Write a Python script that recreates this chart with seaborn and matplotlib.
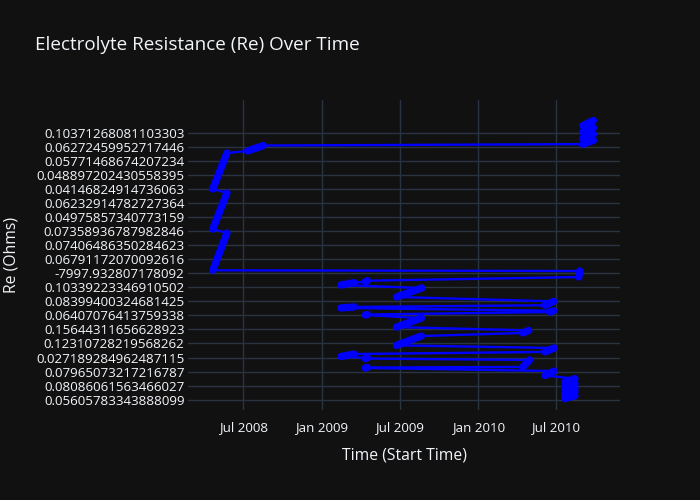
import matplotlib
matplotlib.use("Agg")
import matplotlib.pyplot as plt
import seaborn as sns
import pandas as pd

# ---------------- data ----------------
# Category tick labels of the Re axis (bottom to top)
re_labels = [
    "0.05605783343888099",
    "0.08086061563466027",
    "0.07965073217216787",
    "0.027189284962487115",
    "0.12310728219568262",
    "0.15644311656628923",
    "0.06407076413759338",
    "0.08399400324681425",
    "0.10339223346910502",
    "-7997.932807178092",
    "0.06791172070092616",
    "0.07406486350284623",
    "0.07358936787982846",
    "0.04975857340773159",
    "0.06232914782727364",
    "0.04146824914736063",
    "0.048897202430558395",
    "0.05771468674207234",
    "0.06272459952717446",
    "0.10371268081103303",
]

# Runs of consecutive measurements (in data order): start/end time and
# category position (in units of the labelled tick spacing)
run_start = [
    "2010-07-22", "2010-07-22", "2010-07-22", "2010-07-22", "2010-07-22",
    "2010-06-06", "2009-04-12", "2010-04-15", "2009-04-12", "2009-02-14",
    "2010-06-06", "2009-06-24", "2010-04-15", "2009-06-24", "2009-04-12",
    "2010-06-17", "2009-02-14", "2010-06-06", "2009-06-24", "2009-02-14",
    "2009-04-12", "2010-08-24", "2008-04-21", "2008-04-21", "2008-04-21",
    "2008-07-11", "2010-09-02", "2010-09-02", "2010-09-02", "2010-09-02",
]
run_end = [
    "2010-08-15", "2010-08-15", "2010-08-15", "2010-08-15", "2010-08-15",
    "2010-06-27", "2009-04-17", "2010-05-01", "2009-04-17", "2009-03-17",
    "2010-06-27", "2009-08-21", "2010-04-29", "2009-08-21", "2009-04-17",
    "2010-06-26", "2009-03-17", "2010-06-26", "2009-08-22", "2009-03-17",
    "2009-04-17", "2010-08-26", "2008-05-24", "2008-05-24", "2008-05-24",
    "2008-08-17", "2010-09-27", "2010-09-27", "2010-09-27", "2010-09-27",
]
run_pos_start = [
    0.08, 0.37, 0.66, 0.95, 1.24,
    1.72, 2.26, 2.33, 2.93, 3.07,
    3.40, 3.87, 4.75, 5.17, 6.03,
    6.24, 6.53, 6.72, 7.31, 8.16,
    8.40, 8.73, 9.21, 12.15, 15.00,
    17.70, 18.19, 18.60, 19.05, 19.50,
]
run_pos_end = [
    0.28, 0.57, 0.86, 1.15, 1.50,
    2.04, 2.29, 2.83, 2.97, 3.25,
    3.68, 4.53, 4.93, 5.81, 6.06,
    6.33, 6.60, 7.00, 7.95, 8.33,
    8.47, 9.16, 11.86, 14.71, 17.56,
    18.09, 18.45, 18.90, 19.35, 19.87,
]

x_tick_dates = ["2008-07-01", "2009-01-01", "2009-07-01", "2010-01-01", "2010-07-01"]
x_tick_labels = ["Jul 2008", "Jan 2009", "Jul 2009", "Jan 2010", "Jul 2010"]

rows = []
for i, (s, e, p0, p1) in enumerate(zip(run_start, run_end, run_pos_start, run_pos_end)):
    rows.append({"run": i, "order": 2 * i, "time": pd.Timestamp(s), "pos": p0})
    rows.append({"run": i, "order": 2 * i + 1, "time": pd.Timestamp(e), "pos": p1})
df = pd.DataFrame(rows).sort_values("order").reset_index(drop=True)

# ---------------- style ----------------
BG = "#111111"
GRID = "#283442"
TXT = "#f2f5fa"
sns.set_theme(style="dark")
plt.rcParams["font.family"] = ["Open Sans", "DejaVu Sans"]

fig = plt.figure(figsize=(7, 5), dpi=100, facecolor=BG)
ax = fig.add_axes([188 / 700, 90 / 500, 432 / 700, 310 / 500])
ax.set_facecolor(BG)

# thin connecting line (whole series in data order)
sns.lineplot(data=df, x="time", y="pos", sort=False, estimator=None,
             color="#0000ff", linewidth=1.7, ax=ax, zorder=3)
# dense marker runs
sns.lineplot(data=df, x="time", y="pos", units="run", sort=False, estimator=None,
             color="#0000ff", linewidth=5.3, solid_capstyle="round", ax=ax, zorder=4)

ax.set_xlim(pd.Timestamp("2008-02-23"), pd.Timestamp("2010-11-28"))
ax.set_ylim(-0.733, 21.33)

ax.set_yticks(range(len(re_labels)))
ax.set_yticklabels(re_labels)
ax.set_xticks([pd.Timestamp(d) for d in x_tick_dates])
ax.set_xticklabels(x_tick_labels)

ax.grid(True, color=GRID, linewidth=1.0)
ax.set_axisbelow(True)
for sp in ax.spines.values():
    sp.set_visible(False)
ax.tick_params(axis="both", length=0, colors=TXT, labelsize=9.6)
ax.tick_params(axis="y", pad=2.5)
ax.tick_params(axis="x", pad=8)
ax.set_xlabel("")
ax.set_ylabel("")

fig.text(404 / 700, 1 - 455 / 500, "Time (Start Time)", ha="center", va="center",
         color=TXT, fontsize=11.3)
fig.text(12 / 700, 1 - 255 / 500, "Re (Ohms)", ha="center", va="center",
         rotation=90, color=TXT, fontsize=11.3)
fig.text(35 / 700, 1 - 45 / 500, "Electrolyte Resistance (Re) Over Time",
         ha="left", va="center", color=TXT, fontsize=13.6)

fig.savefig("out.png", dpi=100, facecolor=BG)
